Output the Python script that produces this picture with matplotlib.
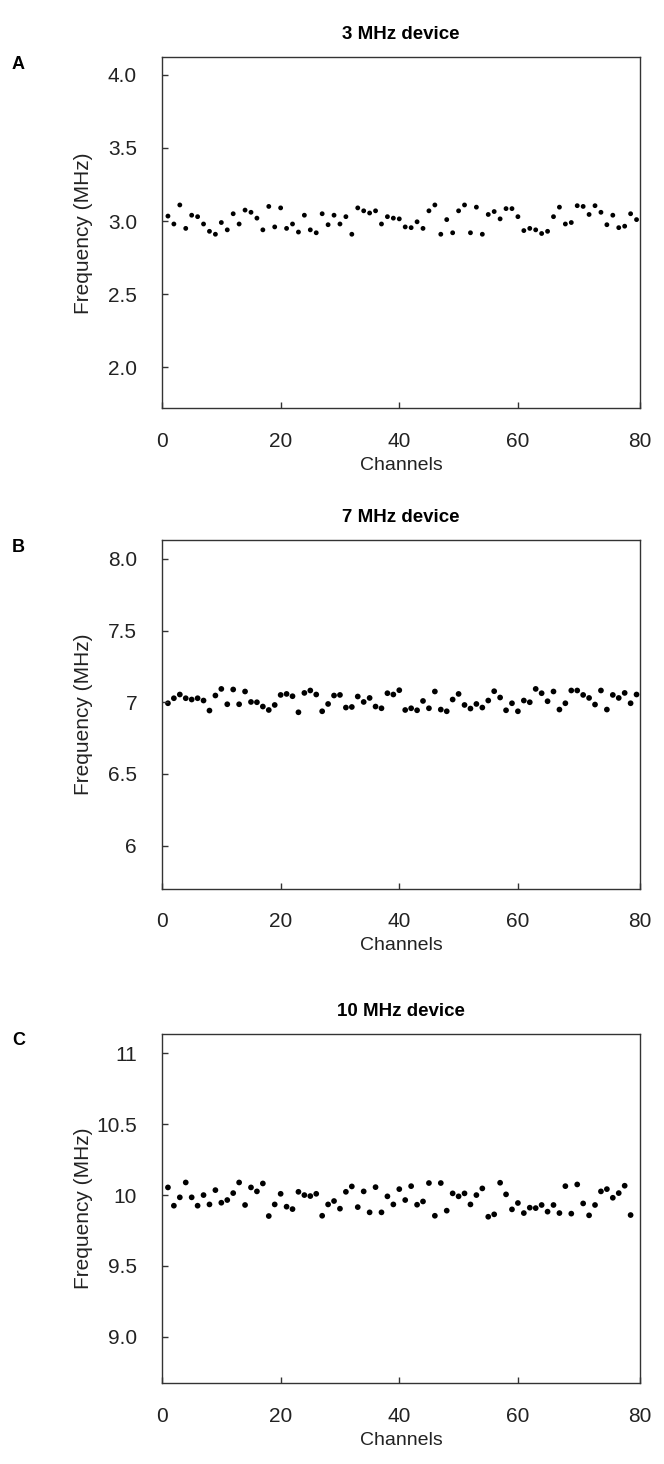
import numpy as np
import matplotlib
matplotlib.use('Agg')
import matplotlib.pyplot as plt

plt.rcParams['font.family'] = ['Liberation Sans', 'DejaVu Sans']

# channel readings (MHz)
freq_3mhz = [3.034, 2.98, 3.11, 2.95, 3.04, 3.03, 2.98, 2.93, 2.91, 2.99,
             2.94, 3.05, 2.98, 3.075, 3.06, 3.02, 2.94, 3.10, 2.96, 3.09,
             2.95, 2.98, 2.925, 3.04, 2.94, 2.92, 3.05, 2.975, 3.04, 2.98,
             3.03, 2.91, 3.09, 3.07, 3.055, 3.07, 2.98, 3.03, 3.02, 3.015,
             2.96, 2.955, 2.995, 2.95, 3.07, 3.11, 2.91, 3.01, 2.92, 3.07,
             3.11, 2.92, 3.095, 2.91, 3.045, 3.065, 3.015, 3.085, 3.085, 3.03,
             2.935, 2.95, 2.94, 2.915, 2.93, 3.03, 3.095, 2.98, 2.99, 3.105,
             3.10, 3.045, 3.105, 3.06, 2.975, 3.04, 2.955, 2.965, 3.05, 3.01]

freq_7mhz = [6.993, 7.028, 7.054, 7.028, 7.019, 7.028, 7.012, 6.942, 7.047, 7.093,
             6.986, 7.089, 6.986, 7.075, 7.002, 7.0, 6.97, 6.946, 6.981, 7.051,
             7.058, 7.042, 6.93, 7.065, 7.082, 7.054, 6.937, 6.988, 7.047, 7.051,
             6.963, 6.967, 7.04, 7.002, 7.03, 6.97, 6.958, 7.063, 7.054, 7.084,
             6.946, 6.958, 6.944, 7.009, 6.958, 7.075, 6.949, 6.937, 7.019, 7.058,
             6.981, 6.956, 6.988, 6.963, 7.012, 7.077, 7.033, 6.944, 6.993, 6.937,
             7.012, 7.0, 7.093, 7.063, 7.007, 7.075, 6.949, 6.993, 7.082, 7.082,
             7.051, 7.03, 6.984, 7.082, 6.949, 7.051, 7.03, 7.065, 6.993, 7.054]

freq_10mhz = [10.054, 9.925, 9.984, 10.089, 9.984, 9.925, 10.0, 9.934, 10.035, 9.946,
              9.965, 10.014, 10.089, 9.93, 10.054, 10.026, 10.082, 9.852, 9.934, 10.009,
              9.918, 9.901, 10.023, 10.0, 9.993, 10.009, 9.854, 9.934, 9.958, 9.904,
              10.023, 10.061, 9.915, 10.026, 9.878, 10.056, 9.878, 9.991, 9.934, 10.042,
              9.965, 10.063, 9.932, 9.955, 10.085, 9.854, 10.085, 9.89, 10.012, 9.991,
              10.012, 9.934, 10.0, 10.047, 9.847, 9.864, 10.087, 10.005, 9.899, 9.944,
              9.873, 9.911, 9.908, 9.93, 9.883, 9.93, 9.873, 10.063, 9.869, 10.075,
              9.941, 9.857, 9.93, 10.026, 10.042, 9.981, 10.014, 10.066, 9.859]

titles = ['3 MHz device', '7 MHz device', '10 MHz device']
letters = ['A', 'B', 'C']
yticks = [[2.0, 2.5, 3.0, 3.5, 4.0],
          [6.0, 6.5, 7.0, 7.5, 8.0],
          [9.0, 9.5, 10.0, 10.5, 11.0]]
ytick_labels = [['2.0', '2.5', '3.0', '3.5', '4.0'],
                ['6', '6.5', '7', '7.5', '8.0'],
                ['9.0', '9.5', '10', '10.5', '11']]
ylims = [(1.72, 4.12), (5.70, 8.13), (8.67, 11.14)]
xmax = 80.6
xticks = [0, 20, 40, 60, xmax]
xtick_labels = ['0', '20', '40', '60', '80']


def main():
    fig = plt.figure(figsize=(6.64, 14.64), dpi=100)
    series = [freq_3mhz, freq_7mhz, freq_10mhz]
    boxes = [[0.244, 0.721, 0.720, 0.240],
             [0.244, 0.393, 0.720, 0.238],
             [0.244, 0.055, 0.720, 0.239]]
    sizes = [12, 17, 17]
    for i, vals in enumerate(series):
        ax = fig.add_axes(boxes[i])
        ch = np.arange(1, len(vals) + 1)
        ax.scatter(ch, vals, s=sizes[i], color='black', edgecolors='none')
        ax.set_xlim(0, xmax)
        ax.set_ylim(*ylims[i])
        ax.set_xticks(xticks)
        ax.set_xticklabels(xtick_labels)
        ax.set_yticks(yticks[i])
        ax.set_yticklabels(ytick_labels[i])
        ax.tick_params(direction='in', length=4, width=1, colors='#333333',
                       labelsize=15, labelcolor='#222222')
        ax.tick_params(axis='x', pad=17)
        ax.tick_params(axis='y', pad=18)
        for sp in ax.spines.values():
            sp.set_linewidth(1.0)
            sp.set_color('#333333')
        ax.set_xlabel('Channels', fontsize=14, color='#222222', labelpad=4)
        ax.set_ylabel('Frequency (MHz)', fontsize=15, color='#222222')
        ax.yaxis.set_label_coords(-0.145, 0.5)
        ax.set_title(titles[i], fontsize=13.5, fontweight='bold', pad=13)
        fig.text(0.018, boxes[i][1] + boxes[i][3] + 0.001, letters[i],
                 fontsize=13, fontweight='bold', va='top')
    fig.savefig('out.png', dpi=100)


if __name__ == '__main__':
    main()
